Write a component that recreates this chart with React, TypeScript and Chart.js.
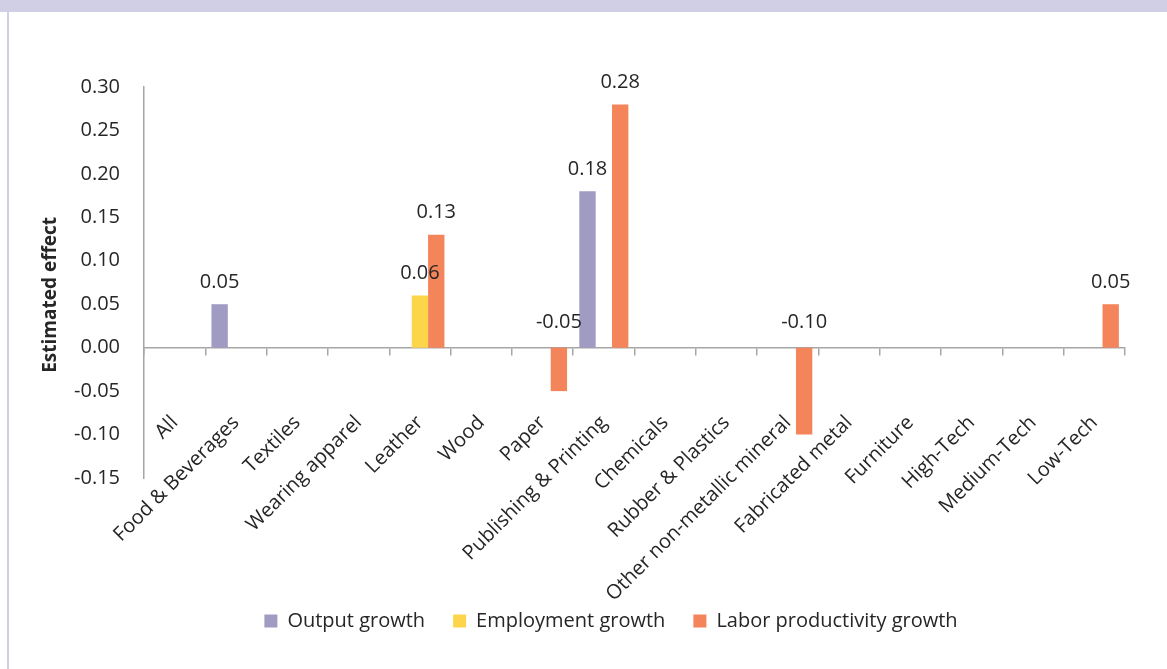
import React, { useEffect, useRef } from "react";
import { Chart, registerables } from "chart.js";

Chart.register(...registerables);

// ---- Data ----
const categories = [
  "All",
  "Food & Beverages",
  "Textiles",
  "Wearing apparel",
  "Leather",
  "Wood",
  "Paper",
  "Publishing & Printing",
  "Chemicals",
  "Rubber & Plastics",
  "Other non-metallic mineral",
  "Fabricated metal",
  "Furniture",
  "High-Tech",
  "Medium-Tech",
  "Low-Tech",
];

const outputGrowth = [null, 0.05, null, null, null, null, null, 0.18, null, null, null, null, null, null, null, null];
const employmentGrowth = [null, null, null, null, 0.06, null, null, null, null, null, null, null, null, null, null, null];
const laborProductivityGrowth = [null, null, null, null, 0.13, null, -0.05, 0.28, null, null, -0.1, null, null, null, null, 0.05];

const seriesNames = ["Output growth", "Employment growth", "Labor productivity growth"];
const seriesColors = ["#9F9BC3", "#FDD54A", "#F4845A"];

const yMin = -0.15;
const yMax = 0.3;
const yStep = 0.05;
const yTitle = "Estimated effect";

// ---- Styling ----
const FONT = "'Open Sans', 'Noto Sans', sans-serif";
const TEXT = "#262626";
const AXIS = "#A6A6A6";
const LEGEND_CENTER_X = 611;

const valueLabels = {
  id: "valueLabels",
  afterDatasetsDraw(chart: any) {
    const ctx = chart.ctx;
    const zeroY = chart.scales.y.getPixelForValue(0);
    ctx.save();
    ctx.font = `20px ${FONT}`;
    ctx.fillStyle = TEXT;
    ctx.textAlign = "center";
    ctx.textBaseline = "middle";
    chart.data.datasets.forEach((ds: any, di: number) => {
      const meta = chart.getDatasetMeta(di);
      meta.data.forEach((bar: any, i: number) => {
        const v = ds.data[i];
        if (v === null || v === undefined) return;
        const y = v >= 0 ? bar.y - 22 : zeroY - 25;
        ctx.fillText(Number(v).toFixed(2), bar.x, y);
      });
    });
    ctx.restore();
  },
};

const legendShift = {
  id: "legendShift",
  afterLayout(chart: any) {
    const lg = chart.legend;
    if (!lg) return;
    const d = LEGEND_CENTER_X - (lg.left + lg.right) / 2;
    lg.left += d;
    lg.right += d;
  },
};

export default function App() {
  const canvasRef = useRef<HTMLCanvasElement | null>(null);

  useEffect(() => {
    document.body.style.margin = "0";
    const canvas = canvasRef.current;
    if (!canvas) return;
    const chart = new Chart(canvas, {
      type: "bar",
      data: {
        labels: categories,
        datasets: [
          { label: seriesNames[0], data: outputGrowth, backgroundColor: seriesColors[0], xAxisID: "x", yAxisID: "y" },
          { label: seriesNames[1], data: employmentGrowth, backgroundColor: seriesColors[1], xAxisID: "x", yAxisID: "y" },
          { label: seriesNames[2], data: laborProductivityGrowth, backgroundColor: seriesColors[2], xAxisID: "x", yAxisID: "y" },
        ],
      },
      options: {
        responsive: false,
        animation: false,
        devicePixelRatio: 1,
        datasets: { bar: { categoryPercentage: 0.8, barPercentage: 1.0 } },
        layout: { padding: { top: 87, right: 42, bottom: 28, left: 0 } },
        plugins: {
          legend: {
            position: "bottom",
            labels: {
              boxWidth: 13,
              boxHeight: 13,
              padding: 28,
              color: TEXT,
              font: { family: FONT, size: 20 },
            },
          },
          tooltip: { enabled: false },
        },
        scales: {
          x: {
            type: "category",
            position: { y: 0 } as any,
            offset: true,
            grid: {
              display: true,
              offset: true,
              drawOnChartArea: false,
              drawTicks: true,
              tickLength: 7,
              color: AXIS,
              lineWidth: 1.5,
            },
            border: { display: true, color: AXIS, width: 1.5 },
            ticks: { display: false },
            afterFit: (s: any) => {
              s.height = 0;
            },
          },
          xl: {
            type: "category",
            labels: categories,
            position: "bottom",
            offset: true,
            grid: { display: false, drawTicks: false },
            border: { display: false },
            ticks: {
              autoSkip: false,
              minRotation: 45,
              maxRotation: 45,
              mirror: true,
              padding: 50,
              labelOffset: 17,
              color: TEXT,
              font: { family: FONT, size: 20 },
            },
            afterFit: (s: any) => {
              s.height = 105;
              s.paddingLeft = 0;
              s.paddingRight = 0;
            },
          },
          y: {
            type: "linear",
            position: "left",
            min: yMin,
            max: yMax,
            grid: { display: false, drawTicks: false },
            border: { display: true, color: AXIS, width: 1.5 },
            ticks: {
              stepSize: yStep,
              padding: 24,
              color: TEXT,
              font: { family: FONT, size: 20 },
              callback: (v: any) => Number(v).toFixed(2),
            },
            title: {
              display: true,
              text: yTitle + "     ",
              color: TEXT,
              font: { family: FONT, size: 19, weight: "bold" },
              padding: { top: 39, bottom: 0 },
            },
            afterFit: (s: any) => {
              s.width = 144;
            },
          },
        },
      } as any,
      plugins: [valueLabels, legendShift],
    });
    return () => chart.destroy();
  }, []);

  return (
    <div style={{ position: "relative", width: 1167, height: 669, background: "#fff", overflow: "hidden" }}>
      <canvas ref={canvasRef} width={1167} height={669} style={{ position: "absolute", left: 0, top: 0, width: 1167, height: 669 }} />
      <div style={{ position: "absolute", left: 0, top: 0, width: 1167, height: 12, background: "#D0CFE6" }} />
      <div style={{ position: "absolute", left: 7, top: 12, width: 2, height: 657, background: "#D0CFE6" }} />
    </div>
  );
}
